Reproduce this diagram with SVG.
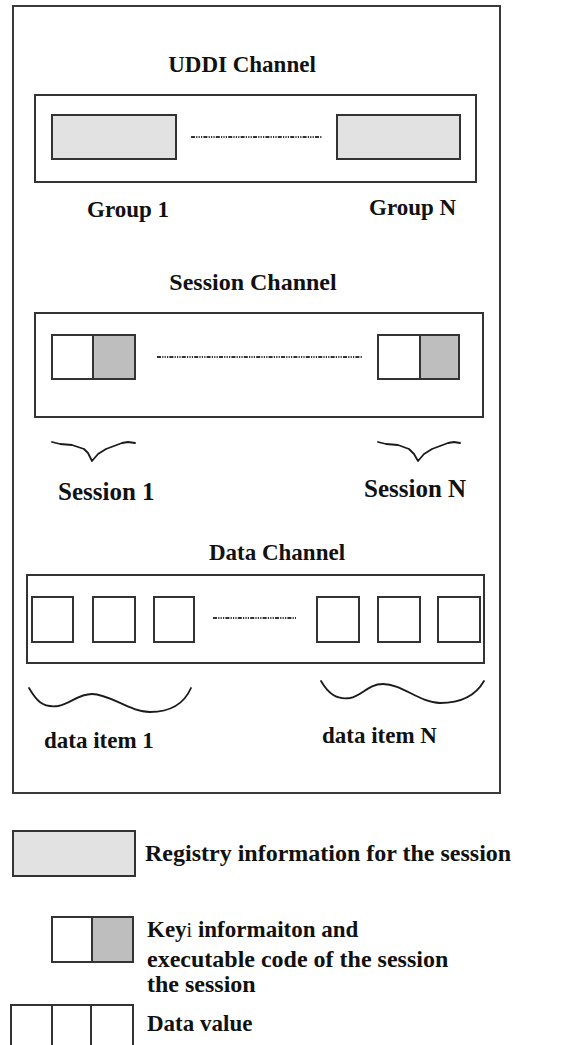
<svg xmlns="http://www.w3.org/2000/svg" width="561" height="1045" viewBox="0 0 561 1045">
  <style>
    .frame { fill: none; stroke: #3a3a3a; stroke-width: 2; }
    .box { fill: #ffffff; stroke: #333333; stroke-width: 2; }
    .reg { fill: #e2e2e2; stroke: #333333; stroke-width: 2; }
    .code { fill: #bebebe; stroke: #333333; stroke-width: 2; }
    .cell { fill: #ffffff; stroke: #333333; stroke-width: 2; }
    .dots { fill: none; stroke: #333333; stroke-width: 1.8; stroke-dasharray: 4 1.2 1.2 1.2 1.2 1.2 1.2 1.2; }
    .brace { fill: none; stroke: #1a1a1a; stroke-width: 1.8; stroke-linejoin: round; stroke-linecap: round; }
    text { font-family: "Liberation Serif", "Times New Roman", serif; font-weight: bold; font-size: 23px; fill: #111111; }
    .big { font-size: 25px; }
    .mid { font-size: 24px; }
  </style>

  <!-- enclosing frame for the three channels -->
  <rect id="frame" class="frame" x="13" y="6" width="487" height="787"/>

  <!-- UDDI channel -->
  <g id="uddi-channel">
    <text x="242" y="72" text-anchor="middle">UDDI Channel</text>
    <rect class="box" x="35" y="95" width="441" height="87"/>
  </g>
  <g id="group-1">
    <rect class="reg" x="52" y="115" width="124" height="44"/>
    <text x="87" y="217">Group 1</text>
  </g>
  <g id="group-n">
    <rect class="reg" x="337" y="115" width="123" height="44"/>
    <text x="369" y="215">Group N</text>
  </g>

  <!-- Session channel -->
  <g id="session-channel">
    <text class="mid" x="253" y="290" text-anchor="middle" font-size="24.5">Session Channel</text>
    <rect class="box" x="35" y="313" width="448" height="104"/>
  </g>
  <g id="session-1">
    <rect class="cell" x="52" y="335" width="41" height="44"/>
    <rect class="code" x="93" y="335" width="42" height="44"/>
    <path class="brace" d="M52,442 L60,444 L72,445 L84,449 L88,453 L92,461 L98,454 L106,449 L114,446 L122,443 L128,442 L135,443"/>
    <text class="big" x="58" y="500">Session 1</text>
  </g>
  <g id="session-n">
    <rect class="cell" x="378" y="335" width="42" height="44"/>
    <rect class="code" x="420" y="335" width="39" height="44"/>
    <path class="brace" d="M378,442 L386,444 L398,445 L409,449 L414,454 L418,461 L424,454 L432,449 L440,446 L448,443 L454,442 L460,443"/>
    <text class="big" x="364" y="497">Session N</text>
  </g>

  <!-- Data channel -->
  <g id="data-channel">
    <text x="277" y="560" text-anchor="middle">Data Channel</text>
    <rect class="box" x="27" y="575" width="457" height="88"/>
  </g>
  <g id="data-item-1">
    <rect class="cell" x="32" y="597" width="41" height="45"/>
    <rect class="cell" x="93" y="597" width="42" height="45"/>
    <rect class="cell" x="154" y="597" width="40" height="45"/>
    <path class="brace" d="M29,688 C36,700 42,708 58,706 C70,704 78,694 92,694 C110,694 130,712 150,712 C170,712 184,704 191,688"/>
    <text x="44" y="748">data item 1</text>
  </g>
  <g id="data-item-n">
    <rect class="cell" x="317" y="597" width="42" height="45"/>
    <rect class="cell" x="378" y="597" width="42" height="45"/>
    <rect class="cell" x="438" y="597" width="42" height="45"/>
    <path class="brace" d="M321,681 C328,693 336,700 350,698 C362,696 368,684 383,684 C402,684 420,703 440,703 C462,703 476,695 484,681"/>
    <text x="322" y="743">data item N</text>
  </g>

  <!-- ellipsis lines between first and last elements -->
  <g id="connectors">
    <line class="dots" x1="191" y1="137" x2="322" y2="137"/>
    <line class="dots" x1="157" y1="357" x2="363" y2="357"/>
    <line class="dots" x1="213" y1="618" x2="296" y2="618"/>
  </g>

  <!-- legend -->
  <g id="legend-registry">
    <rect class="reg" x="13" y="831" width="122" height="45"/>
    <text class="mid" x="145" y="861">Registry information for the session</text>
  </g>
  <g id="legend-key">
    <rect class="cell" x="52" y="917" width="40" height="45"/>
    <rect class="code" x="92" y="917" width="41" height="45"/>
    <text x="147" y="937">Key<tspan font-weight="normal" font-size="20">i</tspan> informaiton and</text>
    <text class="mid" x="147" y="967">executable code of the session</text>
    <text class="mid" x="147" y="992">the session</text>
  </g>
  <g id="legend-data">
    <rect class="cell" x="11" y="1005" width="41" height="50"/>
    <rect class="cell" x="52" y="1005" width="39" height="50"/>
    <rect class="cell" x="91" y="1005" width="42" height="50"/>
    <text x="147" y="1031">Data value</text>
  </g>
</svg>
